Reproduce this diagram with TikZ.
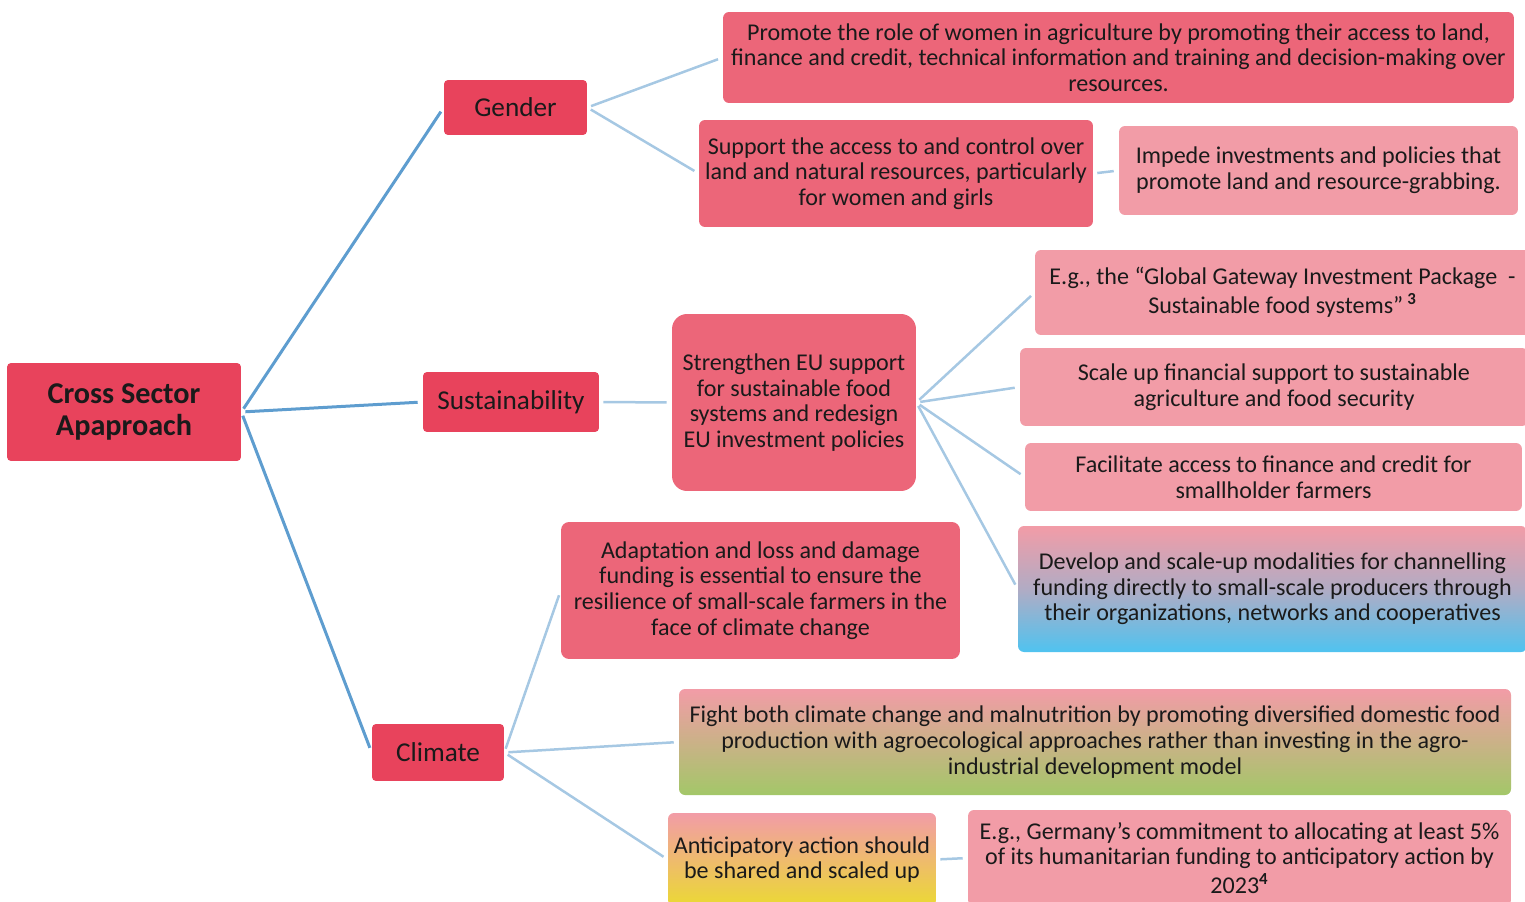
\documentclass[tikz,border=0pt]{standalone}
\usepackage{fontspec}
\setmainfont{Carlito}
\usetikzlibrary{shadings}
\definecolor{cdark}{HTML}{E8435C}
\definecolor{cmid}{HTML}{EC6679}
\definecolor{clight}{HTML}{F29CA7}
\definecolor{cblue}{HTML}{4FC3F0}
\definecolor{cgreen}{HTML}{A3C768}
\definecolor{cyellow}{HTML}{EBD934}
\definecolor{lmain}{HTML}{5E9DCF}
\definecolor{lsub}{HTML}{A6C8E3}
\definecolor{ink}{HTML}{1A1A1A}
\tikzset{
  base/.style={inner sep=0pt, align=center, text=ink, font=\fontsize{13.7}{14.6}\selectfont},
  catbox/.style={base, fill=cdark, rounded corners=0.08cm, font=\fontsize{15.5}{18}\selectfont},
  midbox/.style={base, fill=cmid, rounded corners=0.12cm},
  leafbox/.style={base, fill=clight, rounded corners=0.12cm},
  conn/.style={draw=lmain, line width=0.06cm, shorten <=0.08cm, shorten >=0.1cm},
  subconn/.style={draw=lsub, line width=0.05cm, shorten <=0.08cm, shorten >=0.1cm},
}
\begin{document}
\begin{tikzpicture}[x=0.02cm, y=-0.02cm]
\useasboundingbox (0,0) rectangle (1525,902);
\clip (0,0) rectangle (1525,902);
% main
\node[catbox, minimum width=4.68cm, minimum height=1.96cm, font=\bfseries\fontsize{17.2}{18.5}\selectfont] (cross) at (124,412) {Cross Sector\\Apaproach};
% categories
\node[catbox, minimum width=2.86cm, minimum height=1.10cm] (gender) at (515.5,107.5) {Gender};
\node[catbox, minimum width=3.52cm, minimum height=1.20cm] (sust) at (511,402) {Sustainability};
\node[catbox, minimum width=2.64cm, minimum height=1.14cm] (climate) at (438,752.5) {Climate};
% gender branch
\node[midbox, minimum width=15.82cm, minimum height=1.82cm] (promote) at (1118.5,57.5) {Promote the role of women in agriculture by promoting their access to land,\\finance and credit, technical information and training and decision-making over\\resources.};
\node[midbox, minimum width=7.88cm, minimum height=2.14cm] (support) at (896,173.5) {Support the access to and control over\\land and natural resources, particularly\\for women and girls};
\node[leafbox, minimum width=7.98cm, minimum height=1.78cm] (impede) at (1318.5,170.5) {Impede investments and policies that\\promote land and resource-grabbing.};
% sustainability branch
\node[midbox, rounded corners=0.3cm, minimum width=4.88cm, minimum height=3.54cm] (strength) at (794,402.5) {Strengthen EU support\\for sustainable food\\systems and redesign\\EU investment policies};
\node[leafbox, minimum width=9.9cm, minimum height=1.70cm] (global) at (1282.5,292.5) {E.g., the ``Global Gateway Investment Package\ \ -\\[2pt]Sustainable food systems''\,\textsuperscript{\textbf{3}}};
\node[leafbox, minimum width=10.16cm, minimum height=1.56cm] (scale) at (1274,387) {Scale up financial support to sustainable\\agriculture and food security};
\node[leafbox, minimum width=9.94cm, minimum height=1.36cm] (facil) at (1273.5,477) {Facilitate access to finance and credit for\\smallholder farmers};
\shade[rounded corners=0.12cm, top color=clight, bottom color=cblue, middle color=clight!60!cblue] (1018,526) rectangle (1527,652);
\node[base, minimum width=10.18cm, minimum height=2.52cm] (develop) at (1272.5,589) {Develop and scale-up modalities for channelling\\funding directly to small-scale producers through\\their organizations, networks and cooperatives};
% climate branch
\node[midbox, rounded corners=0.16cm, minimum width=7.98cm, minimum height=2.74cm] (adapt) at (760.5,590.5) {Adaptation and loss and damage\\funding is essential to ensure the\\resilience of small-scale farmers in the\\face of climate change};
\shade[rounded corners=0.12cm, top color=clight, bottom color=cgreen, middle color=clight!50!cgreen] (679,689) rectangle (1511,795);
\node[base, minimum width=16.64cm, minimum height=2.12cm] (fight) at (1095,742) {Fight both climate change and malnutrition by promoting diversified domestic food\\production with agroecological approaches rather than investing in the agro-\\industrial development model};
\shade[rounded corners=0.12cm, top color=clight, bottom color=cyellow, middle color=clight!50!cyellow] (668,813) rectangle (936,906);
\node[base, minimum width=5.36cm, minimum height=1.86cm] (antic) at (802,859.5) {Anticipatory action should\\be shared and scaled up};
\node[leafbox, minimum width=10.86cm, minimum height=1.92cm] (germany) at (1239.5,858) {E.g., Germany's commitment to allocating at least 5\%\\of its humanitarian funding to anticipatory action by\\[2pt]2023\textsuperscript{\textbf{4}}};
% connectors
\draw[conn] (cross.east) -- (gender.west);
\draw[conn] (cross.east) -- (sust.west);
\draw[conn] (cross.east) -- (climate.west);
\draw[subconn] (gender.east) -- (promote.west);
\draw[subconn] (gender.east) -- (support.west);
\draw[subconn] (support.east) -- (impede.west);
\draw[subconn] (sust.east) -- (strength.west);
\draw[subconn] (strength.east) -- (global.west);
\draw[subconn] (strength.east) -- (scale.west);
\draw[subconn] (strength.east) -- (facil.west);
\draw[subconn] (strength.east) -- (develop.west);
\draw[subconn] (climate.east) -- (adapt.west);
\draw[subconn] (climate.east) -- (fight.west);
\draw[subconn] (climate.east) -- (antic.west);
\draw[subconn] (antic.east) -- (germany.west);
\end{tikzpicture}
\end{document}
